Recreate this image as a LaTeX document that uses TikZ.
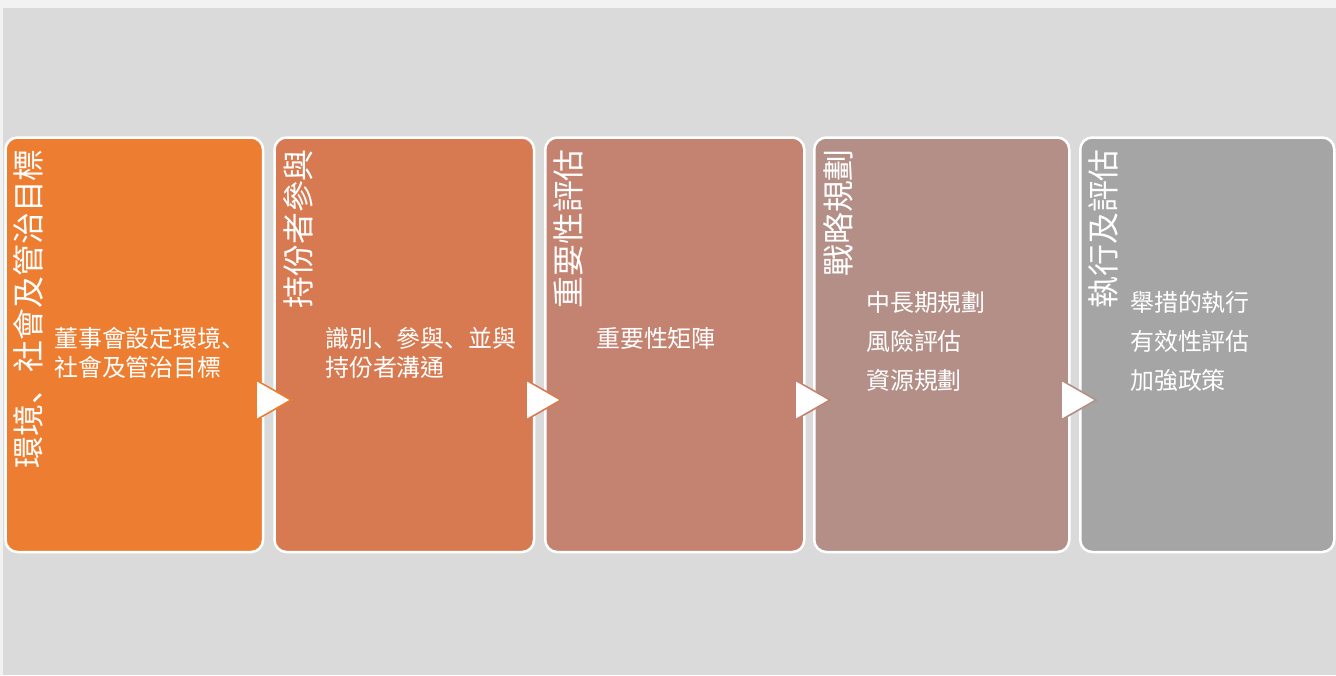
\documentclass[tikz,border=0pt]{standalone}
\usepackage{fontspec}
\setmainfont{Noto Sans CJK TC}
\newfontfamily\cjk{Noto Sans CJK TC}
\newfontfamily\cjksc{Noto Sans CJK SC}
\newcommand{\dunhao}{{\cjksc 、}}
\definecolor{outerbg}{HTML}{F2F2F2}
\definecolor{innerbg}{HTML}{DADADA}
\definecolor{cA}{HTML}{ED7D31}
\definecolor{cB}{HTML}{D77A52}
\definecolor{cC}{HTML}{C48270}
\definecolor{cD}{HTML}{B38F88}
\definecolor{cE}{HTML}{A5A5A5}
\begin{document}
\begin{tikzpicture}[x=1bp,y=-1bp,
  stagebox/.style={draw=white, line width=2.5bp, rounded corners=12bp, inner sep=0pt,
    minimum height=414.5bp, anchor=north west},
  titletext/.style={rotate=90, anchor=east, inner sep=0pt, text=white,
    font=\cjk\fontsize{32}{32}\selectfont},
  bodytext/.style={anchor=west, inner sep=0pt, text=white,
    font=\cjk\fontsize{24}{28}\selectfont},
  flowarrow/.style={fill=white, line width=1.6bp, line join=miter}]
\useasboundingbox (0,0) rectangle (1336,675);
\fill[outerbg] (0,0) rectangle (1336,675);
\fill[innerbg] (3,8) rectangle (1336,675);
% boxes
\node[stagebox, fill=cA, minimum width=257.5bp] (s1) at (4.25,136.25) {};
\node[stagebox, fill=cB, minimum width=259.5bp] (s2) at (273.25,136.25) {};
\node[stagebox, fill=cC, minimum width=259bp] (s3) at (544,136.25) {};
\node[stagebox, fill=cD, minimum width=255bp] (s4) at (813,136.25) {};
\node[stagebox, fill=cE, minimum width=254bp] (s5) at (1079,136.25) {};
% arrows
\draw[flowarrow, draw=cA] (256,380) -- (256,420) -- (291,400) -- cycle;
\draw[flowarrow, draw=cB] (526,380) -- (526,420) -- (561,400) -- cycle;
\draw[flowarrow, draw=cC] (795,380) -- (795,420) -- (830,400) -- cycle;
\draw[flowarrow, draw=cD] (1061,380) -- (1061,420) -- (1096,400) -- cycle;
% titles
\node[titletext] (t1) at (28,149) {環境\dunhao 社會及管治目標};
\node[titletext] (t2) at (298,149) {持份者參與};
\node[titletext] (t3) at (568,149) {重要性評估};
\node[titletext] (t4) at (838,149) {戰略規劃};
\node[titletext] (t5) at (1103,149) {執行及評估};
% body text
\node[bodytext] (b1a) at (54,338) {董事會設定環境\dunhao};
\node[bodytext] (b1b) at (54,367) {社會及管治目標};
\node[bodytext] (b2a) at (325,338) {識別\dunhao 參與\dunhao 並與};
\node[bodytext] (b2b) at (325,367) {持份者溝通};
\node[bodytext] (b3a) at (596,338) {重要性矩陣};
\node[bodytext] (b4a) at (866,302) {中長期規劃};
\node[bodytext] (b4b) at (866,341) {風險評估};
\node[bodytext] (b4c) at (866,380) {資源規劃};
\node[bodytext] (b5a) at (1130,302) {舉措的執行};
\node[bodytext] (b5b) at (1130,341) {有效性評估};
\node[bodytext] (b5c) at (1130,380) {加強政策};
\end{tikzpicture}
\end{document}
